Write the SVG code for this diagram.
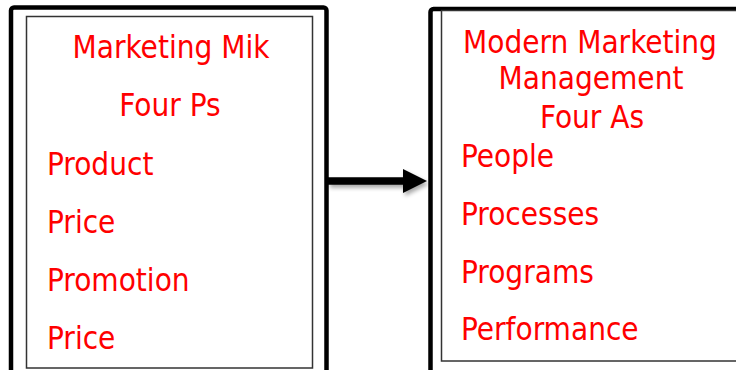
<svg xmlns="http://www.w3.org/2000/svg" width="736" height="370" viewBox="0 0 736 370">
<defs>
<style>
.t{font-family:"DejaVu Sans Condensed","DejaVu Sans",Tahoma,sans-serif;font-stretch:condensed;font-size:31.2px;fill:#ff0000}
.c{text-anchor:middle}
.outer{fill:none;stroke:#000;stroke-width:4.5}
.inner{fill:#fff;stroke:#333;stroke-width:1.5}
</style>
<filter id="sh" x="-20%" y="-50%" width="140%" height="200%">
<feGaussianBlur in="SourceAlpha" stdDeviation="2"/>
<feOffset dx="2" dy="3" result="b"/>
<feComponentTransfer><feFuncA type="linear" slope="0.35"/></feComponentTransfer>
<feMerge><feMergeNode/><feMergeNode in="SourceGraphic"/></feMerge>
</filter>
</defs>
<rect width="736" height="370" fill="#fff"/>
<g id="left-box">
<rect class="outer" x="11" y="7.5" width="315.5" height="380" rx="3"/>
<rect class="inner" x="26.5" y="16.5" width="286" height="351.5"/>
<text class="t c" x="171" y="58">Marketing Mik</text>
<text class="t c" x="170" y="116">Four Ps</text>
<text class="t" x="47" y="175">Product</text>
<text class="t" x="47" y="233">Price</text>
<text class="t" x="47" y="291">Promotion</text>
<text class="t" x="47" y="349">Price</text>
</g>
<g id="right-box">
<rect class="outer" x="430.5" y="9" width="330" height="380" rx="3"/>
<rect class="inner" x="441.5" y="10.5" width="310" height="350.5"/>
<text class="t c" x="590" y="53">Modern Marketing</text>
<text class="t c" x="591" y="89">Management</text>
<text class="t c" x="592" y="128">Four As</text>
<text class="t" x="461" y="167">People</text>
<text class="t" x="461" y="225">Processes</text>
<text class="t" x="461" y="283">Programs</text>
<text class="t" x="461" y="340">Performance</text>
</g>
<g id="connectors" filter="url(#sh)">
<line x1="328" y1="181" x2="405" y2="181" stroke="#000" stroke-width="7.5"/>
<polygon points="403,169 427,181 403,193" fill="#000"/>
</g>
</svg>
